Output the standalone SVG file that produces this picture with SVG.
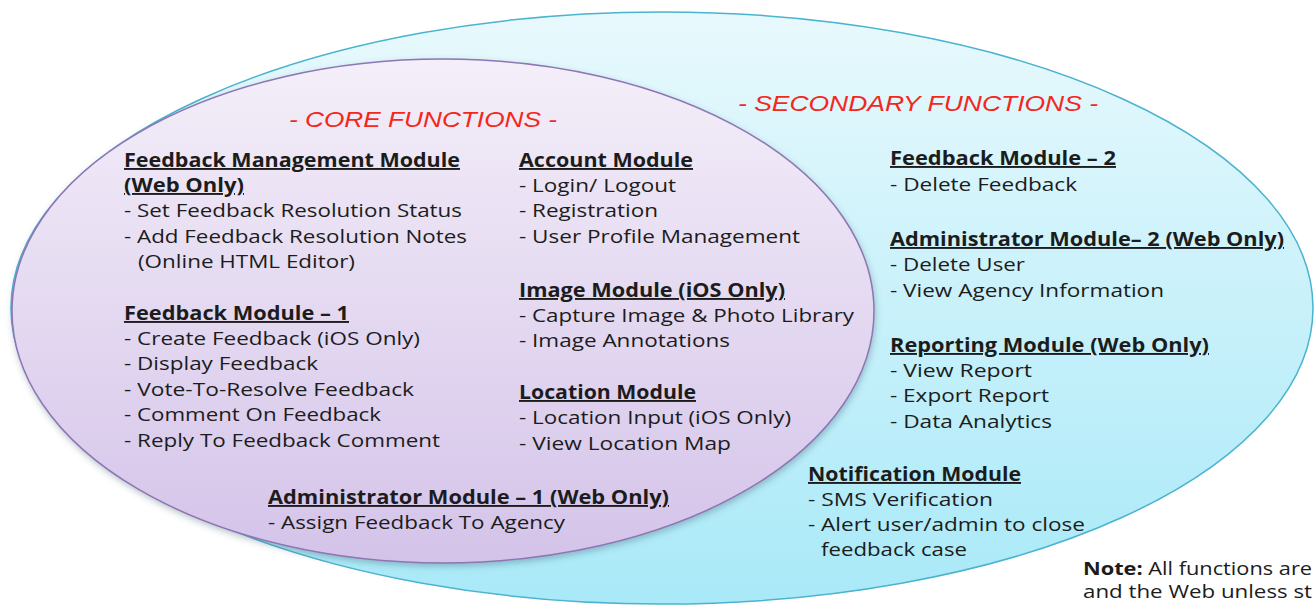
<svg xmlns="http://www.w3.org/2000/svg" width="1314" height="605" viewBox="0 0 1314 605">
<style>
.t{font-family:"Open Sans","Liberation Sans",sans-serif;font-size:19px;fill:#1c1c1c}
.h{font-weight:bold;text-decoration:underline}
.ttl{font-family:"Liberation Sans","DejaVu Sans",sans-serif;font-style:italic;font-size:22px;fill:#f3281c}
</style>
<defs>
<linearGradient id="gOut" x1="0" y1="0" x2="0" y2="1">
<stop offset="0" stop-color="#e8f9fd"/>
<stop offset="1" stop-color="#a9e9f8"/>
</linearGradient>
<linearGradient id="gIn" x1="0" y1="0" x2="0" y2="1">
<stop offset="0" stop-color="#f4eff9"/>
<stop offset="1" stop-color="#d4c3e9"/>
</linearGradient>
<filter id="sh" x="-5%" y="-5%" width="110%" height="115%">
<feDropShadow dx="1" dy="3" stdDeviation="3" flood-color="#3a5f70" flood-opacity="0.35"/>
</filter>
</defs>
<g id="secondary">
<ellipse cx="662" cy="308" rx="651" ry="296" fill="url(#gOut)" stroke="#4ab3cf" stroke-width="1.5"/>
<text class="ttl" x="738" y="111" textLength="360" lengthAdjust="spacingAndGlyphs">- SECONDARY FUNCTIONS -</text>
</g>
<g id="core">
<ellipse cx="443" cy="311" rx="431" ry="252" fill="url(#gIn)" stroke="#8d76b4" stroke-width="1.5" filter="url(#sh)"/>
<text class="ttl" x="289" y="127" textLength="268" lengthAdjust="spacingAndGlyphs">- CORE FUNCTIONS -</text>
</g>
<g id="connectors"/>
<g id="feedback-management-module">
<text class="t h" x="124" y="167" textLength="336" lengthAdjust="spacingAndGlyphs">Feedback Management Module</text>
<text class="t h" x="124" y="192" textLength="120" lengthAdjust="spacingAndGlyphs">(Web Only)</text>
<text class="t" x="124" y="217" textLength="338" lengthAdjust="spacingAndGlyphs">- Set Feedback Resolution Status</text>
<text class="t" x="124" y="243" textLength="343" lengthAdjust="spacingAndGlyphs">- Add Feedback Resolution Notes</text>
<text class="t" x="138" y="268" textLength="217" lengthAdjust="spacingAndGlyphs">(Online HTML Editor)</text>
</g>
<g id="feedback-module-1">
<text class="t h" x="124" y="320" textLength="225" lengthAdjust="spacingAndGlyphs">Feedback Module – 1</text>
<text class="t" x="124" y="345" textLength="296" lengthAdjust="spacingAndGlyphs">- Create Feedback (iOS Only)</text>
<text class="t" x="124" y="370" textLength="194" lengthAdjust="spacingAndGlyphs">- Display Feedback</text>
<text class="t" x="124" y="396" textLength="290" lengthAdjust="spacingAndGlyphs">- Vote-To-Resolve Feedback</text>
<text class="t" x="124" y="421" textLength="257" lengthAdjust="spacingAndGlyphs">- Comment On Feedback</text>
<text class="t" x="124" y="447" textLength="316" lengthAdjust="spacingAndGlyphs">- Reply To Feedback Comment</text>
</g>
<g id="account-module">
<text class="t h" x="519" y="167" textLength="174" lengthAdjust="spacingAndGlyphs">Account Module</text>
<text class="t" x="519" y="192" textLength="157" lengthAdjust="spacingAndGlyphs">- Login/ Logout</text>
<text class="t" x="519" y="217" textLength="139" lengthAdjust="spacingAndGlyphs">- Registration</text>
<text class="t" x="519" y="243" textLength="281" lengthAdjust="spacingAndGlyphs">- User Profile Management</text>
</g>
<g id="image-module">
<text class="t h" x="519" y="297" textLength="266" lengthAdjust="spacingAndGlyphs">Image Module (iOS Only)</text>
<text class="t" x="519" y="322" textLength="335" lengthAdjust="spacingAndGlyphs">- Capture Image &amp; Photo Library</text>
<text class="t" x="519" y="347" textLength="211" lengthAdjust="spacingAndGlyphs">- Image Annotations</text>
</g>
<g id="location-module">
<text class="t h" x="519" y="399" textLength="177" lengthAdjust="spacingAndGlyphs">Location Module</text>
<text class="t" x="519" y="424" textLength="272" lengthAdjust="spacingAndGlyphs">- Location Input (iOS Only)</text>
<text class="t" x="519" y="450" textLength="212" lengthAdjust="spacingAndGlyphs">- View Location Map</text>
</g>
<g id="administrator-module-1">
<text class="t h" x="268" y="504" textLength="401" lengthAdjust="spacingAndGlyphs">Administrator Module – 1 (Web Only)</text>
<text class="t" x="268" y="529" textLength="297" lengthAdjust="spacingAndGlyphs">- Assign Feedback To Agency</text>
</g>
<g id="feedback-module-2">
<text class="t h" x="890" y="165" textLength="226" lengthAdjust="spacingAndGlyphs">Feedback Module – 2</text>
<text class="t" x="890" y="191" textLength="187" lengthAdjust="spacingAndGlyphs">- Delete Feedback</text>
</g>
<g id="administrator-module-2">
<text class="t h" x="890" y="246" textLength="394" lengthAdjust="spacingAndGlyphs">Administrator Module– 2 (Web Only)</text>
<text class="t" x="890" y="271" textLength="135" lengthAdjust="spacingAndGlyphs">- Delete User</text>
<text class="t" x="890" y="297" textLength="274" lengthAdjust="spacingAndGlyphs">- View Agency Information</text>
</g>
<g id="reporting-module">
<text class="t h" x="890" y="352" textLength="319" lengthAdjust="spacingAndGlyphs">Reporting Module (Web Only)</text>
<text class="t" x="890" y="377" textLength="142" lengthAdjust="spacingAndGlyphs">- View Report</text>
<text class="t" x="890" y="402" textLength="159" lengthAdjust="spacingAndGlyphs">- Export Report</text>
<text class="t" x="890" y="428" textLength="162" lengthAdjust="spacingAndGlyphs">- Data Analytics</text>
</g>
<g id="notification-module">
<text class="t h" x="808" y="481" textLength="213" lengthAdjust="spacingAndGlyphs">Notification Module</text>
<text class="t" x="808" y="506" textLength="185" lengthAdjust="spacingAndGlyphs">- SMS Verification</text>
<text class="t" x="808" y="531" textLength="277" lengthAdjust="spacingAndGlyphs">- Alert user/admin to close</text>
<text class="t" x="821" y="556" textLength="146" lengthAdjust="spacingAndGlyphs">feedback case</text>
</g>
<g id="note">
<text class="t" x="1083" y="575" style="font-size:18px" textLength="229" lengthAdjust="spacingAndGlyphs"><tspan font-weight="bold">Note:</tspan> All functions are</text>
<text class="t" x="1083" y="598" style="font-size:18px" textLength="229" lengthAdjust="spacingAndGlyphs">and the Web unless st</text>
</g>
</svg>
